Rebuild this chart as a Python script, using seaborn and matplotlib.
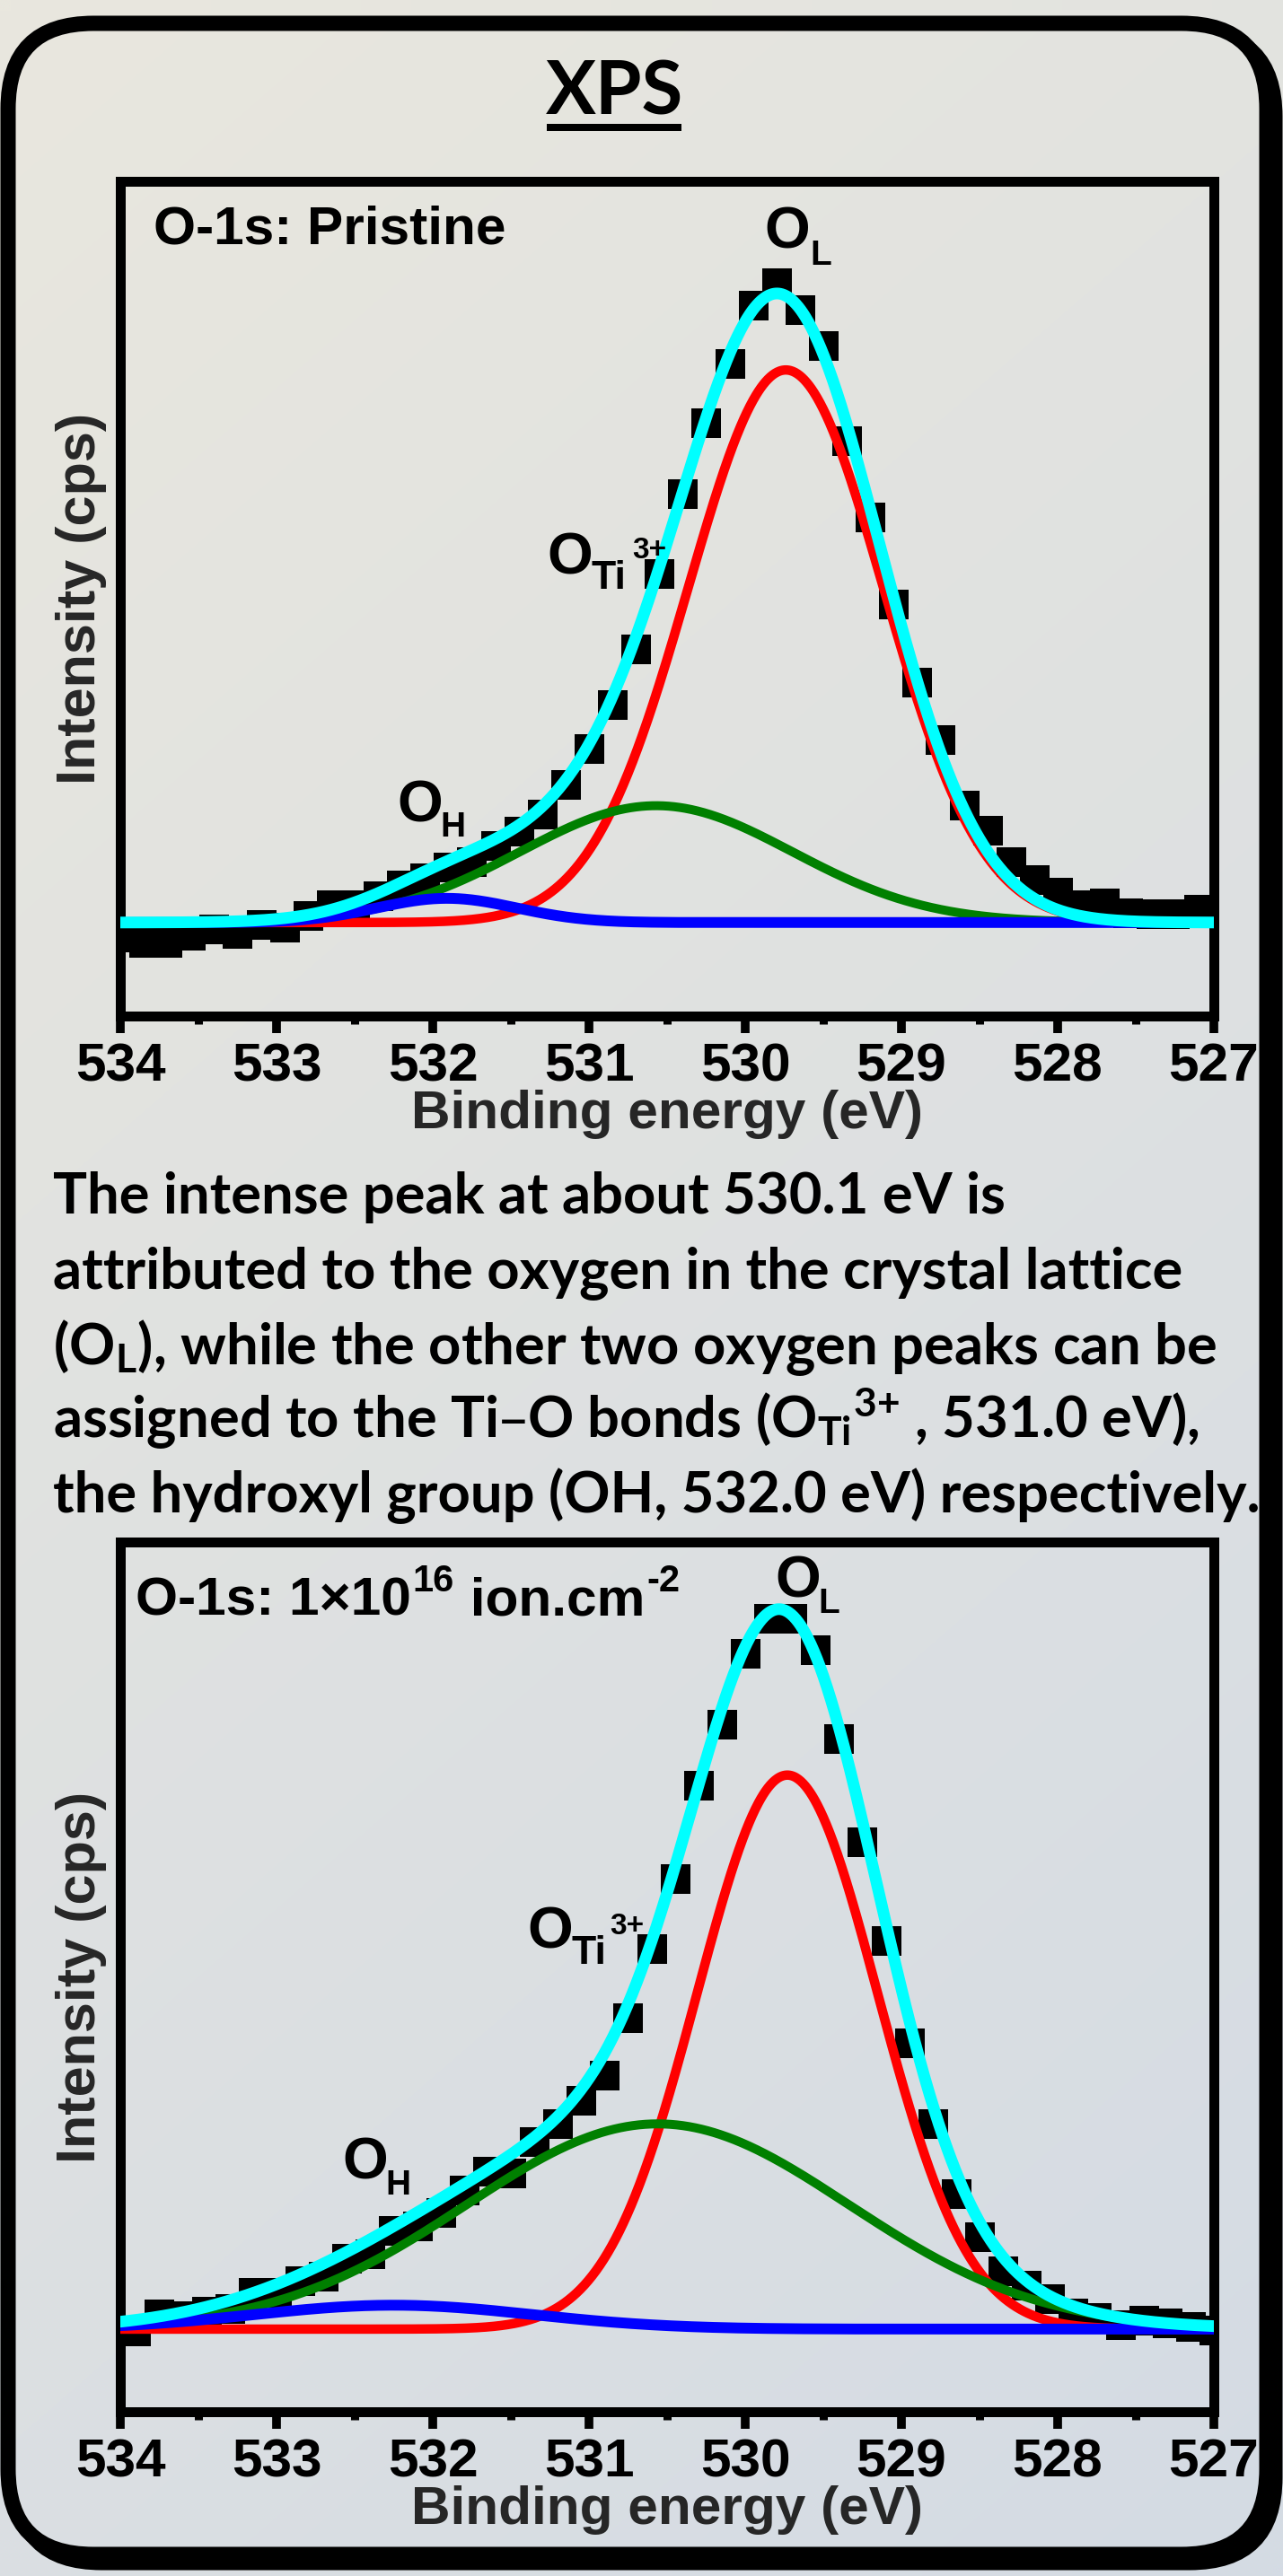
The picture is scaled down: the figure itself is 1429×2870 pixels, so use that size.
import numpy as np
import pandas as pd
import matplotlib
matplotlib.use("Agg")
import matplotlib.pyplot as plt
import seaborn as sns
from matplotlib.patches import FancyBboxPatch
from matplotlib.transforms import IdentityTransform

# ---------------------------------------------------------------- data
xtick_values = [534, 533, 532, 531, 530, 529, 528, 527]
xtick_labels = ["534", "533", "532", "531", "530", "529", "528", "527"]
minor_tick_values = [533.5, 532.5, 531.5, 530.5, 529.5, 528.5, 527.5]

energy_pristine = [534.00, 533.85, 533.70, 533.55, 533.40, 533.25, 533.10, 532.95,
                   532.80, 532.65, 532.50, 532.35, 532.20, 532.05, 531.90, 531.75,
                   531.60, 531.45, 531.30, 531.15, 531.00, 530.85, 530.70, 530.55,
                   530.40, 530.25, 530.10, 529.95, 529.80, 529.65, 529.50, 529.35,
                   529.20, 529.05, 528.90, 528.75, 528.60, 528.45, 528.30, 528.15,
                   528.00, 527.85, 527.70, 527.55, 527.40, 527.25, 527.10]
counts_pristine = [9.5, 8.85, 8.85, 9.7, 10.4, 9.9, 11.0, 10.6,
                   12.0, 13.3, 13.3, 14.4, 15.7, 16.6, 17.8, 18.5,
                   20.4, 22.1, 24.2, 27.7, 32.0, 37.3, 44.0, 53.0,
                   62.6, 71.1, 78.2, 85.2, 87.9, 84.6, 80.3, 68.9,
                   59.8, 49.4, 40.0, 33.1, 25.3, 22.3, 18.5, 16.3,
                   14.8, 13.3, 13.5, 12.4, 12.3, 12.3, 12.8]

energy_implanted = [533.90, 533.75, 533.60, 533.45, 533.30, 533.15, 533.00, 532.85,
                    532.70, 532.55, 532.40, 532.25, 532.10, 531.95, 531.80, 531.65,
                    531.50, 531.35, 531.20, 531.05, 530.90, 530.75, 530.60, 530.45,
                    530.30, 530.15, 530.00, 529.85, 529.70, 529.55, 529.40, 529.25,
                    529.10, 528.95, 528.80, 528.65, 528.50, 528.35, 528.20, 528.05,
                    527.90, 527.75, 527.60, 527.45, 527.30, 527.15, 527.00]
counts_implanted = [9.3, 11.3, 11.0, 11.6, 11.9, 13.7, 13.7, 15.1,
                    15.6, 17.6, 18.2, 20.8, 21.4, 22.9, 25.5, 27.7,
                    27.5, 31.1, 33.1, 35.8, 38.7, 45.3, 53.25, 61.3,
                    72.0, 79.1, 87.25, 91.2, 91.2, 87.6, 77.4, 65.5,
                    54.2, 42.4, 33.1, 25.1, 20.1, 16.2, 14.6, 13.0,
                    11.35, 10.8, 10.0, 10.5, 10.25, 9.8, 9.4]

# fitted components (O_L, O_Ti3+, O_H): centre (eV), height, FWHM (eV)
component_names = ["O_L", "O_Ti3+", "O_H"]
pristine_centers = [529.74, 530.57, 531.91]
pristine_heights = [66.2, 14.0, 2.9]
pristine_fwhm = [1.47, 2.05, 1.05]
pristine_background = 11.2

implanted_centers = [529.73, 530.56, 532.25]
implanted_heights = [63.7, 23.6, 2.75]
implanted_fwhm = [1.36, 2.88, 2.10]
implanted_background = 9.5

# ---------------------------------------------------------------- style
W, H, DPI = 1429, 2870, 100
PX = 72.0 / DPI  # points per pixel

sns.set_style("ticks")
plt.rcParams["font.family"] = ["Liberation Sans", "DejaVu Sans"]
plt.rcParams["font.weight"] = "bold"
plt.rcParams["axes.labelweight"] = "bold"
plt.rcParams["mathtext.default"] = "regular"
plt.rcParams["axes.edgecolor"] = "black"
plt.rcParams["xtick.color"] = "black"
plt.rcParams["text.color"] = "black"

comp_colors = ["#ff0000", "#008000", "#0000ff"]
comp_lw = [10.5 * PX, 10 * PX, 12 * PX]
comp_z = [3, 3.2, 3.4]

fig = plt.figure(figsize=(W / DPI, H / DPI), dpi=DPI)

# ---------------------------------------------------------------- background and frame
bg = fig.add_axes([0, 0, 1, 1], zorder=-10)
yy, xx = np.mgrid[0:1:120j, 0:1:60j]
t = 0.3 * xx + 0.7 * yy
c0 = np.array([233, 231, 222]) / 255.0
c1 = np.array([212, 219, 228]) / 255.0
grad = c0 + (c1 - c0) * t[..., None]
bg.imshow(grad, extent=[0, W, H, 0], aspect="auto", interpolation="bilinear", zorder=0)


def rrect(x0, y0, x1, y1, r, **kw):
    return FancyBboxPatch((x0, y0), x1 - x0, y1 - y0,
                          boxstyle=f"round,pad=0,rounding_size={r}", **kw)


FX0, FY0, FX1, FY1, FR = 9, 26, 1411, 2846, 95
bg.add_patch(rrect(FX0 + 9, FY0 + 9, FX1 + 9, FY1 + 9, FR, fill=False,
                   ec="black", lw=17 * PX, zorder=1))
inner = rrect(FX0, FY0, FX1, FY1, FR, fc="none", ec="none", zorder=2)
bg.add_patch(inner)
im2 = bg.imshow(grad, extent=[0, W, H, 0], aspect="auto", interpolation="bilinear", zorder=2)
im2.set_clip_path(inner)
bg.add_patch(rrect(FX0, FY0, FX1, FY1, FR, fill=False, ec="black", lw=17 * PX, zorder=3))
bg.set_xlim(0, W)
bg.set_ylim(H, 0)
bg.axis("off")

# ---------------------------------------------------------------- panels
def axes_rect(left, top, right, bottom):
    return [left / W, 1 - bottom / H, (right - left) / W, (bottom - top) / H]


ax1 = fig.add_axes(axes_rect(134, 202, 1352, 1132))
ax2 = fig.add_axes(axes_rect(134, 1718, 1352, 2687))

grid = np.linspace(527, 534, 1401)


def draw_panel(ax, energy, counts, centers, heights, fwhms, background):
    df = pd.DataFrame({"E": energy, "I": counts})
    sns.scatterplot(data=df, x="E", y="I", ax=ax, marker="s", s=(33 * PX) ** 2,
                    color="black", linewidth=0, zorder=2, legend=False)
    comps = []
    for c, h, f, col, lw, z in zip(centers, heights, fwhms, comp_colors, comp_lw, comp_z):
        sigma = f / 2.3548
        comp = h * np.exp(-0.5 * ((grid - c) / sigma) ** 2)
        comps.append(comp)
        sns.lineplot(x=grid, y=background + comp, ax=ax, color=col, linewidth=lw,
                     zorder=z, estimator=None, sort=False)
    env = background + np.sum(comps, axis=0)
    sns.lineplot(x=grid, y=env, ax=ax, color="#00ffff", linewidth=13 * PX,
                 zorder=5, estimator=None, sort=False)

    ax.set_xlim(534, 527)
    ax.set_ylim(0, 100)
    ax.set_facecolor("none")
    for s in ax.spines.values():
        s.set_visible(True)
        s.set_linewidth(11 * PX)
        s.set_color("black")
    ax.set_yticks([])
    ax.set_xticks(xtick_values)
    ax.set_xticklabels(xtick_labels)
    ax.set_xticks(minor_tick_values, minor=True)
    ax.tick_params(axis="x", which="major", direction="out", length=13.5, width=7,
                   pad=7.5, labelsize=43.5, bottom=True, top=False)
    ax.tick_params(axis="x", which="minor", direction="out", length=6.5, width=6.5,
                   bottom=True, top=False)
    ax.tick_params(axis="y", left=False, right=False, labelleft=False)
    for lab in ax.get_xticklabels():
        lab.set_fontweight("bold")
    ax.set_xlabel("Binding energy (eV)", fontsize=43.5, fontweight="bold", labelpad=-1.5)
    ax.set_ylabel("Intensity (cps)", fontsize=44, fontweight="bold")
    ax.yaxis.set_label_coords(-0.0123, 0.5)
    ax.grid(False)


draw_panel(ax1, energy_pristine, counts_pristine, pristine_centers, pristine_heights,
           pristine_fwhm, pristine_background)
draw_panel(ax2, energy_implanted, counts_implanted, implanted_centers, implanted_heights,
           implanted_fwhm, implanted_background)

# panel title (top)
ax1.text(0.0304, 0.925, "O-1s: Pristine", transform=ax1.transAxes, ha="left",
         va="baseline", fontsize=43.5, fontweight="bold")


def peak_label(ax, parts):
    for (x, y, txt, size) in parts:
        ax.text(x, y, txt, ha="left", va="baseline", fontsize=size, fontweight="bold",
                zorder=6)


peak_label(ax1, [(529.879, 92.0, "O", 47), (529.586, 90.0, "L", 28),
                 (531.27, 53.0, "O", 47), (530.983, 51.2, "Ti", 32), (530.724, 54.8, "3+", 24),
                 (532.23, 23.3, "O", 47), (531.954, 21.5, "H", 28)])
peak_label(ax2, [(529.81, 93.7, "O", 47), (529.53, 91.8, "L", 28),
                 (531.397, 53.35, "O", 47), (531.11, 51.5, "Ti", 32), (530.868, 54.9, "3+", 24),
                 (532.58, 26.8, "O", 47), (532.30, 25.0, "H", 28)])

# ---------------------------------------------------------------- title and paragraph
title = fig.text(684 / W, 1 - 127 / H, "XPS", ha="center", va="baseline",
                 fontsize=60, fontweight="bold", family=["Lato", "DejaVu Sans"])

fig.canvas.draw()
renderer = fig.canvas.get_renderer()


def write_runs(x_px, baseline_px, runs):
    """Write text pieces one after the other (pixel positions from the top-left)."""
    x = x_px
    for txt, size, rise in runs:
        tt = fig.text(x, H - baseline_px + rise, txt, transform=IdentityTransform(),
                      ha="left", va="baseline", fontsize=size, fontweight="bold")
        x += tt.get_window_extent(renderer).width + 1.5


# panel title (bottom) with superscripts
write_runs(151, 1800, [("O-1s: 1\u00d710", 43.5, 0), ("16", 30, 27),
                       (" ion.cm", 43.5, 0), ("-2", 30, 27)])

para_lines = [
    "The intense peak at about 530.1 eV is",
    "attributed to the oxygen in the crystal lattice",
    "(O$_{L}$), while the other two oxygen peaks can be",
    "assigned to the Ti\u2013O bonds (O$_{Ti}{}^{3{+}}$ , 531.0 eV),",
    "the hydroxyl group (OH, 532.0 eV) respectively.",
]
para_baselines = [1352, 1435, 1520, 1602, 1685]

probe = fig.text(0, 0, para_lines[4], fontsize=44, fontweight="bold",
                 family=["Lato", "DejaVu Sans"])
pw = probe.get_window_extent(renderer).width
probe.remove()
para_size = 44 * 1345.0 / pw

for line, yb in zip(para_lines, para_baselines):
    fig.text(59 / W, 1 - yb / H, line, ha="left", va="baseline", fontsize=para_size,
             fontweight="bold", family=["Lato", "DejaVu Sans"])

tb = title.get_window_extent(renderer)
bg.plot([tb.x0 + 2, tb.x1 - 2], [142, 142], color="black", lw=8 * PX,
        solid_capstyle="butt", zorder=4)

fig.savefig("out.png", dpi=DPI)
